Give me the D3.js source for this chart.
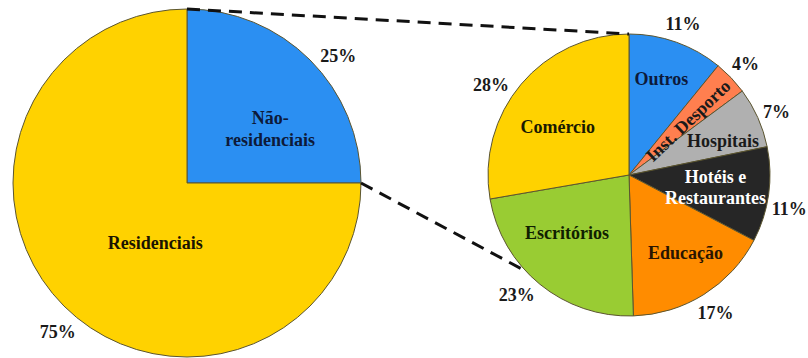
<!DOCTYPE html>
<html>
<head>
<meta charset="utf-8">
<script src="https://cdn.jsdelivr.net/npm/d3@7"></script>
<style>
  html, body { margin: 0; padding: 0; background: #fff; }
  svg { display: block; }
</style>
</head>
<body>
<svg id="chart" width="808" height="358"></svg>
<script>
// Consumo total: residenciais vs. não-residenciais (%)
const mainCategories = ["Não-residenciais", "Residenciais"];
const mainValues = [25, 75];
const mainColors = ["#2b8ff2", "#ffd200"];

// Repartição do sector não-residencial (%)
const subCategories = ["Outros", "Inst. Desporto", "Hospitais", "Hotéis e Restaurantes", "Educação", "Escritórios", "Comércio"];
const subValues = [11, 4, 7, 11, 17, 23, 28];
const subColors = ["#2b8ff2", "#ff7f4f", "#b0b0b0", "#262626", "#ff8c00", "#99cc33", "#ffd200"];
const subTextColors = ["#0d1a3a", "#1a1a1a", "#1a1a1a", "#ffffff", "#2a1500", "#102000", "#1a1a00"];
const subLabelLines = [["Outros"], ["Inst. Desporto"], ["Hospitais"], ["Hotéis e", "Restaurantes"], ["Educação"], ["Escritórios"], ["Comércio"]];
const mainLabelLines = [["Não-", "residenciais"], ["Residenciais"]];

// label layout: radius fraction and angular nudge (degrees) of inner labels,
// angular nudge of the outside percentage labels
const mainLabelLayout = { radius: [0.57, 0.39], nudge: [12, -17], pctNudge: [5, -4] };
const subLabelLayout = {
  radius: [0.72, 0.57, 0.71, 0.62, 0.68, 0.6, 0.61],
  nudge: [-1, 1, 4, 0, -4, 8, -6],
  pctNudge: [0, 0, 1, 4, 0, 4, -7]
};

const FONT = "'Liberation Serif', 'Times New Roman', Tinos, serif";
const svg = d3.select("#chart");

const big = { cx: 187, cy: 183, r: 174 };
const small = { cx: 629, cy: 175, r: 141 };

const pie = d3.pie().sort(null).value(d => d);
const rad = deg => deg * Math.PI / 180;

function polar(c, angle, r) {
  return [c.cx + r * Math.sin(angle), c.cy - r * Math.cos(angle)];
}

function drawPie(c, values, colors, labelLines, layout, textColors, rotateIdx) {
  const arcs = pie(values);
  const arc = d3.arc().innerRadius(0).outerRadius(c.r);
  const g = svg.append("g").attr("transform", `translate(${c.cx},${c.cy})`);
  g.selectAll("path").data(arcs).join("path")
    .attr("d", arc)
    .attr("fill", (d, i) => colors[i])
    .attr("stroke", "#5b5530")
    .attr("stroke-width", 1);

  // inner category labels
  arcs.forEach((d, i) => {
    const mid = (d.startAngle + d.endAngle) / 2;
    const a = mid + rad(layout.nudge[i]);
    const rr = c.r * layout.radius[i];
    const x = rr * Math.sin(a), y = -rr * Math.cos(a);
    const lines = labelLines[i];
    const t = g.append("text")
      .attr("text-anchor", "middle")
      .attr("font-family", FONT)
      .attr("font-weight", "bold")
      .attr("font-size", 18)
      .attr("fill", textColors[i]);
    if (i === rotateIdx) {
      const deg = mid * 180 / Math.PI - 90;
      t.attr("transform", `translate(${x},${y}) rotate(${deg})`)
        .attr("dy", "0.35em").text(lines[0]);
    } else {
      lines.forEach((ln, k) => {
        t.append("tspan").attr("x", x)
          .attr("y", y + (k - (lines.length - 1) / 2) * 22)
          .attr("dy", "0.35em").text(ln);
      });
    }
  });

  // percentage labels outside the pie
  arcs.forEach((d, i) => {
    const label = values[i] + "%";
    const a = (d.startAngle + d.endAngle) / 2 + rad(layout.pctNudge[i]);
    const w = label.length * 9, h = 16;
    const rr = c.r + 8 + (w / 2) * Math.abs(Math.sin(a)) + (h / 2) * Math.abs(Math.cos(a));
    const x = rr * Math.sin(a), y = -rr * Math.cos(a);
    g.append("text")
      .attr("x", x).attr("y", y).attr("dy", "0.35em")
      .attr("text-anchor", "middle")
      .attr("font-family", FONT)
      .attr("font-weight", "bold")
      .attr("font-size", 18)
      .attr("fill", "#1a1a1a")
      .text(label);
  });
  return arcs;
}

const mainArcs = drawPie(big, mainValues, mainColors, mainLabelLines, mainLabelLayout,
  ["#0d1a3a", "#1a1400"], -1);
drawPie(small, subValues, subColors, subLabelLines, subLabelLayout, subTextColors, 1);

// dashed connectors from the non-residential slice to the breakdown pie
const sliceStart = mainArcs[0].startAngle, sliceEnd = mainArcs[0].endAngle;
const connectors = [
  [polar(big, sliceStart, big.r), polar(small, 0, small.r)],
  [polar(big, sliceEnd, big.r), polar(small, rad(227), small.r)]
];
svg.selectAll("line.conn").data(connectors).join("line")
  .attr("class", "conn")
  .attr("x1", d => d[0][0]).attr("y1", d => d[0][1])
  .attr("x2", d => d[1][0]).attr("y2", d => d[1][1])
  .attr("stroke", "#111")
  .attr("stroke-width", 3)
  .attr("stroke-dasharray", "13,8");
</script>
</body>
</html>
